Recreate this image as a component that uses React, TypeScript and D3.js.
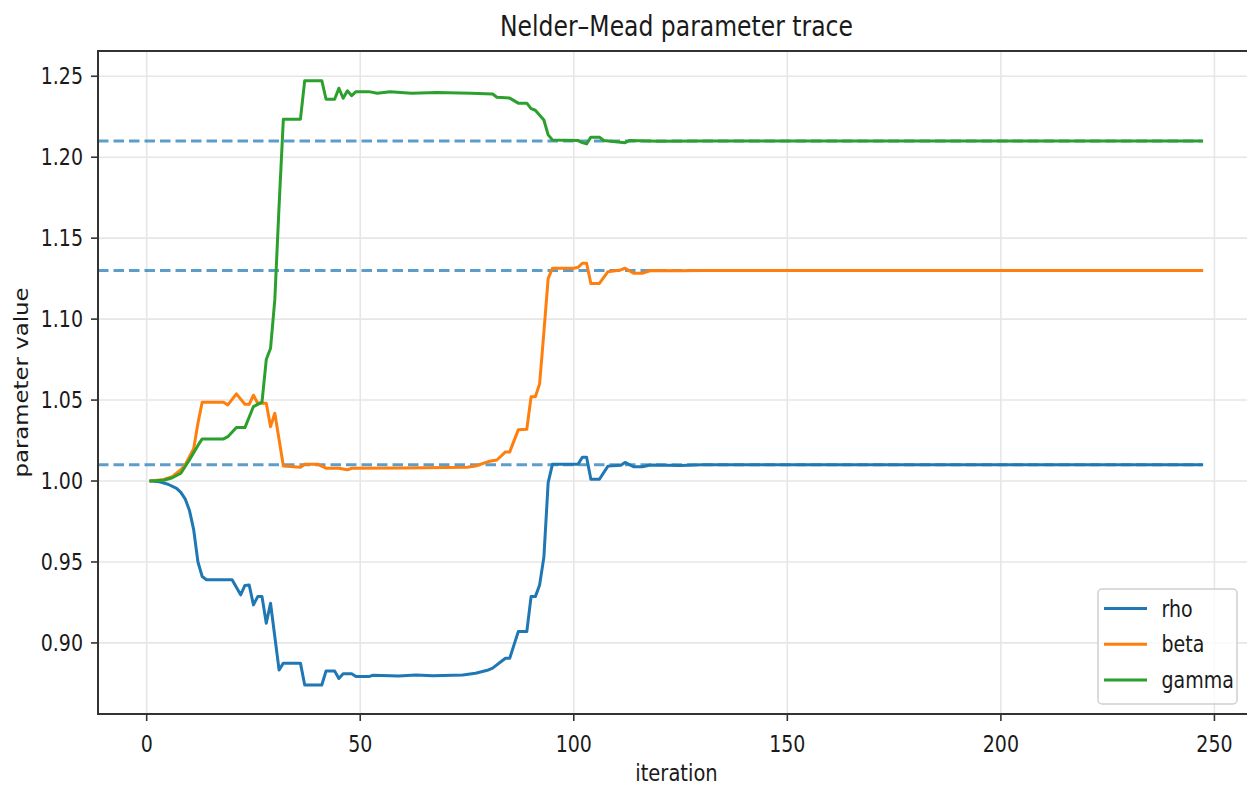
import React from 'react';
import * as d3 from 'd3';

// Axis ticks and reference levels
const iterTicks = [0, 50, 100, 150, 200, 250];
const valueTicks = [0.9, 0.95, 1.0, 1.05, 1.1, 1.15, 1.2, 1.25];
const targetLevels = [1.01, 1.13, 1.21];

// Parameter traces: iteration index and parameter value at each vertex
const rhoIter = [1, 3, 5, 7, 8, 9, 10, 11, 12, 13, 14, 20, 22, 23, 24, 25, 26, 27, 28, 29, 31, 32, 36, 37, 41, 42, 44, 45, 46, 48, 49, 52, 53, 59, 63, 67, 74, 77, 80, 81, 83, 84, 85, 87, 89, 90, 91, 92, 93, 94, 95, 101, 102, 103, 104, 106, 108, 111, 112, 114, 116, 118, 125, 130, 247];
const rhoVal = [1.0, 0.9995, 0.998, 0.9955, 0.993, 0.989, 0.982, 0.97, 0.95, 0.941, 0.939, 0.939, 0.9297, 0.9355, 0.9358, 0.9235, 0.9286, 0.9286, 0.9122, 0.9245, 0.8833, 0.8875, 0.8875, 0.874, 0.874, 0.8827, 0.8827, 0.878, 0.8809, 0.8809, 0.8792, 0.8792, 0.88, 0.8796, 0.8802, 0.8798, 0.8802, 0.8813, 0.8833, 0.8844, 0.8885, 0.8905, 0.8905, 0.907, 0.907, 0.9286, 0.9286, 0.9358, 0.953, 0.999, 1.0103, 1.0103, 1.0147, 1.0147, 1.0011, 1.0011, 1.0092, 1.0097, 1.0115, 1.0088, 1.0088, 1.0099, 1.0096, 1.01, 1.01];

const betaIter = [1, 4, 6, 8, 9, 11, 12, 13, 18, 19, 21, 23, 24, 25, 26, 28, 29, 30, 32, 36, 37, 40, 42, 45, 47, 48, 60, 75, 77, 80, 82, 84, 85, 87, 89, 90, 91, 92, 93, 94, 95, 100, 101, 102, 103, 104, 106, 108, 111, 112, 114, 116, 118, 125, 130, 247];
const betaVal = [1.0, 1.001, 1.0027, 1.007, 1.0099, 1.02, 1.0357, 1.0487, 1.0487, 1.047, 1.0538, 1.0474, 1.0474, 1.053, 1.048, 1.048, 1.0336, 1.0419, 1.0093, 1.0085, 1.0104, 1.0104, 1.0079, 1.0079, 1.0069, 1.0079, 1.008, 1.0085, 1.0093, 1.012, 1.013, 1.018, 1.018, 1.0316, 1.032, 1.052, 1.052, 1.06, 1.092, 1.125, 1.1314, 1.1314, 1.132, 1.1345, 1.1345, 1.122, 1.122, 1.1293, 1.1304, 1.1314, 1.1283, 1.1283, 1.13, 1.1298, 1.13, 1.13];

const gammaIter = [1, 4, 6, 8, 10, 12, 13, 18, 19, 21, 23, 25, 27, 28, 29, 30, 31, 32, 36, 37, 41, 42, 44, 45, 46, 47, 48, 49, 52, 54, 57, 62, 68, 76, 81, 82, 85, 87, 89, 90, 91, 93, 94, 95, 101, 102, 103, 104, 106, 107, 112, 113, 120, 130, 247];
const gammaVal = [1.0, 1.0005, 1.002, 1.0048, 1.013, 1.022, 1.026, 1.026, 1.0274, 1.033, 1.033, 1.046, 1.0487, 1.075, 1.082, 1.112, 1.17, 1.2235, 1.2235, 1.2473, 1.2473, 1.2358, 1.2358, 1.2426, 1.2364, 1.241, 1.238, 1.2405, 1.2405, 1.2395, 1.2405, 1.2395, 1.24, 1.2395, 1.239, 1.237, 1.2365, 1.2334, 1.2334, 1.23, 1.229, 1.223, 1.2138, 1.2107, 1.2103, 1.209, 1.2082, 1.2124, 1.2124, 1.2103, 1.209, 1.2103, 1.2098, 1.21, 1.21];

const seriesNames = ['rho', 'beta', 'gamma'];
const seriesColors = ['#1f77b4', '#ff7f0e', '#2ca02c'];

const W = 1247;
const H = 787;
const LEFT = 98;
const RIGHT = 1255;
const TOP = 51;
const BOTTOM = 714;
const SY = 1.17;
const FONT = '"DejaVu Sans", sans-serif';
const INK = '#1a1a1a';

function Label(props: {
  x: number;
  y: number;
  size: number;
  anchor?: string;
  rotate?: boolean;
  children: React.ReactNode;
}) {
  const { x, y, size, anchor = 'start', rotate = false, children } = props;
  const t = rotate
    ? `translate(${x},${y}) rotate(-90) scale(${SY},1)`
    : `translate(${x},${y}) scale(1,${SY})`;
  return (
    <text transform={t} fontSize={size} fontFamily={FONT} fill={INK} textAnchor={anchor}>
      {children}
    </text>
  );
}

export default function App() {
  const x = d3.scaleLinear().domain([-11.4, 259.5]).range([LEFT, RIGHT]);
  const y = d3.scaleLinear().domain([0.8561, 1.2656]).range([BOTTOM, TOP]);

  const line = d3
    .line<[number, number]>()
    .x((d) => x(d[0]))
    .y((d) => y(d[1]));

  const traces = [
    d3.zip(rhoIter, rhoVal) as [number, number][],
    d3.zip(betaIter, betaVal) as [number, number][],
    d3.zip(gammaIter, gammaVal) as [number, number][],
  ];

  const lastIter = 247;

  return (
    <svg
      width={W}
      height={H}
      viewBox={`0 0 ${W} ${H}`}
      style={{ position: 'absolute', left: 0, top: 0, background: '#fff' }}
    >
      <defs>
        <clipPath id="plot-area">
          <rect x={LEFT} y={TOP} width={RIGHT - LEFT} height={BOTTOM - TOP} />
        </clipPath>
      </defs>

      {/* grid */}
      <g stroke="#e6e6e6" strokeWidth={1.6}>
        {iterTicks.map((t) => (
          <line key={'gx' + t} x1={x(t)} x2={x(t)} y1={TOP} y2={BOTTOM} />
        ))}
        {valueTicks.map((t) => (
          <line key={'gy' + t} x1={LEFT} x2={RIGHT} y1={y(t)} y2={y(t)} />
        ))}
      </g>

      {/* target levels */}
      <g stroke="#1f77b4" strokeOpacity={0.72} strokeWidth={3} strokeDasharray="10.5 5">
        {targetLevels.map((v) => (
          <line key={'t' + v} x1={LEFT} x2={x(lastIter)} y1={y(v)} y2={y(v)} />
        ))}
      </g>

      {/* traces */}
      <g clipPath="url(#plot-area)" fill="none" strokeWidth={3} strokeLinejoin="round" strokeLinecap="square">
        {traces.map((tr, i) => (
          <path key={seriesNames[i]} d={line(tr) ?? ''} stroke={seriesColors[i]} />
        ))}
      </g>

      {/* spines */}
      <g stroke="#333" strokeWidth={2} fill="none">
        <line x1={LEFT} x2={LEFT} y1={TOP - 1} y2={BOTTOM + 1} />
        <line x1={LEFT - 1} x2={RIGHT} y1={BOTTOM} y2={BOTTOM} />
        <line x1={LEFT - 1} x2={RIGHT} y1={TOP} y2={TOP} />
        <line x1={RIGHT} x2={RIGHT} y1={TOP} y2={BOTTOM} />
      </g>

      {/* ticks */}
      <g stroke="#333" strokeWidth={1.6}>
        {iterTicks.map((t) => (
          <line key={'tx' + t} x1={x(t)} x2={x(t)} y1={BOTTOM} y2={BOTTOM + 7} />
        ))}
        {valueTicks.map((t) => (
          <line key={'ty' + t} x1={LEFT - 7} x2={LEFT} y1={y(t)} y2={y(t)} />
        ))}
      </g>

      {iterTicks.map((t) => (
        <Label key={'lx' + t} x={x(t)} y={752} size={19} anchor="middle">
          {String(t)}
        </Label>
      ))}
      {valueTicks.map((t) => (
        <Label key={'ly' + t} x={83} y={y(t) + 8} size={19} anchor="end">
          {d3.format('.2f')(t)}
        </Label>
      ))}

      <Label x={(LEFT + RIGHT) / 2} y={36} size={23.5} anchor="middle">
        Nelder–Mead parameter trace
      </Label>
      <Label x={(LEFT + RIGHT) / 2} y={781} size={19.5} anchor="middle">
        iteration
      </Label>
      <Label x={28} y={(TOP + BOTTOM) / 2} size={19.5} anchor="middle" rotate>
        parameter value
      </Label>

      {/* legend */}
      <g>
        <rect x={1098} y={589} width={139} height={115} rx={4} fill="#fff" fillOpacity={0.8} stroke="#d0d0d0" strokeWidth={1.5} />
        {seriesNames.map((name, i) => {
          const cy = 608.5 + i * 35.8;
          return (
            <g key={'lg' + name}>
              <line x1={1104} x2={1147} y1={cy} y2={cy} stroke={seriesColors[i]} strokeWidth={3} />
              <Label x={1161.5} y={cy + 8} size={19}>
                {name}
              </Label>
            </g>
          );
        })}
      </g>
    </svg>
  );
}
